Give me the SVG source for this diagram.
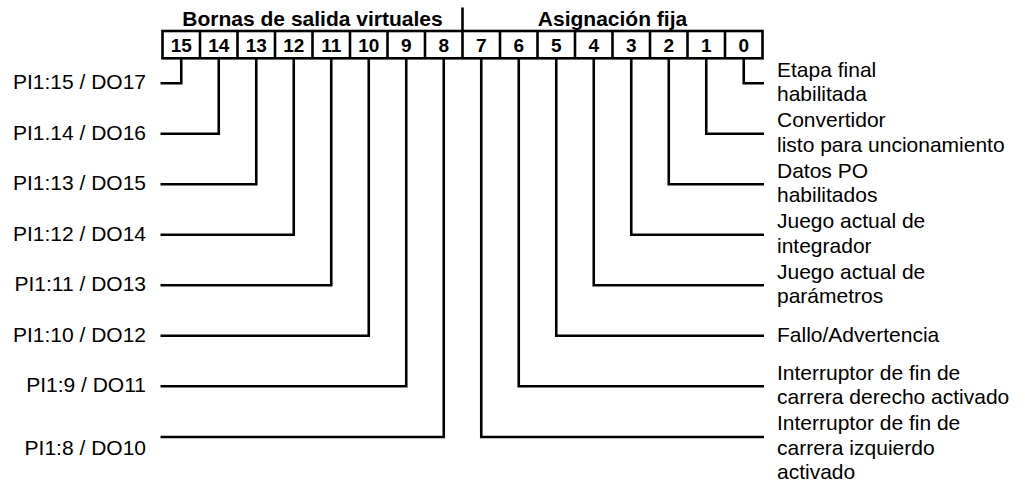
<svg xmlns="http://www.w3.org/2000/svg" width="1025" height="485" viewBox="0 0 1025 485">
<style>
.t{font-family:"Liberation Sans",Arial,sans-serif;font-size:21px;fill:#000}
.h{font-family:"Liberation Sans",Arial,sans-serif;font-size:21px;font-weight:bold;fill:#000;text-anchor:middle}
.n{font-family:"Liberation Sans",Arial,sans-serif;font-size:19px;font-weight:bold;fill:#000;text-anchor:middle}
.l{text-anchor:end}
.c{fill:none;stroke:#000;stroke-width:2.6;stroke-linejoin:miter;stroke-linecap:butt}
.b{fill:#fff;stroke:#000;stroke-width:2.6}
</style>
<rect width="1025" height="485" fill="#fff"/>
<g id="header">
<text class="h" x="312.5" y="26">Bornas de salida virtuales</text>
<text class="h" x="612.5" y="26">Asignación fija</text>
<line class="c" x1="462.5" y1="7.5" x2="462.5" y2="31"/>
</g>
<g id="register">
<rect class="b" x="162.5" y="31" width="600" height="27.3"/>
<path class="c" d="M200,31V58.3M237.5,31V58.3M275,31V58.3M312.5,31V58.3M350,31V58.3M387.5,31V58.3M425,31V58.3M462.5,31V58.3M500,31V58.3M537.5,31V58.3M575,31V58.3M612.5,31V58.3M650,31V58.3M687.5,31V58.3M725,31V58.3"/>
<text class="n" x="181.25" y="51.9">15</text>
<text class="n" x="218.75" y="51.9">14</text>
<text class="n" x="256.25" y="51.9">13</text>
<text class="n" x="293.75" y="51.9">12</text>
<text class="n" x="331.25" y="51.9">11</text>
<text class="n" x="368.75" y="51.9">10</text>
<text class="n" x="406.25" y="51.9">9</text>
<text class="n" x="443.75" y="51.9">8</text>
<text class="n" x="481.25" y="51.9">7</text>
<text class="n" x="518.75" y="51.9">6</text>
<text class="n" x="556.25" y="51.9">5</text>
<text class="n" x="593.75" y="51.9">4</text>
<text class="n" x="631.25" y="51.9">3</text>
<text class="n" x="668.75" y="51.9">2</text>
<text class="n" x="706.25" y="51.9">1</text>
<text class="n" x="743.75" y="51.9">0</text>
</g>
<g id="connectors">
<path class="c" d="M160.5,83.3H181.25V58.3"/>
<path class="c" d="M160.5,133.8H218.75V58.3"/>
<path class="c" d="M160.5,184.3H256.25V58.3"/>
<path class="c" d="M160.5,234.8H293.75V58.3"/>
<path class="c" d="M160.5,285.3H331.25V58.3"/>
<path class="c" d="M160.5,335.8H368.75V58.3"/>
<path class="c" d="M160.5,386.3H406.25V58.3"/>
<path class="c" d="M160.5,437H443.75V58.3"/>
<path class="c" d="M764,83.3H743.75V58.3"/>
<path class="c" d="M764,133.8H706.25V58.3"/>
<path class="c" d="M764,184.3H668.75V58.3"/>
<path class="c" d="M764,234.8H631.25V58.3"/>
<path class="c" d="M764,285.3H593.75V58.3"/>
<path class="c" d="M764,335.8H556.25V58.3"/>
<path class="c" d="M764,386.3H518.75V58.3"/>
<path class="c" d="M764,437H481.25V58.3"/>
</g>
<g id="left-labels">
<text class="t l" x="146" y="89.3">PI1:15 / DO17</text>
<text class="t l" x="146" y="139.8">PI1.14 / DO16</text>
<text class="t l" x="146" y="190.3">PI1:13 / DO15</text>
<text class="t l" x="146" y="240.8">PI1:12 / DO14</text>
<text class="t l" x="146" y="291.3">PI1:11 / DO13</text>
<text class="t l" x="146" y="341.8">PI1:10 / DO12</text>
<text class="t l" x="146" y="392.3">PI1:9 / DO11</text>
<text class="t l" x="146" y="455">PI1:8 / DO10</text>
</g>
<g id="bit0"><text class="t" x="777" y="76.7">Etapa final</text><text class="t" x="777" y="101">habilitada</text></g>
<g id="bit1"><text class="t" x="777" y="127.2">Convertidor</text><text class="t" x="777" y="151.5">listo para uncionamiento</text></g>
<g id="bit2"><text class="t" x="777" y="177.7">Datos PO</text><text class="t" x="777" y="202">habilitados</text></g>
<g id="bit3"><text class="t" x="777" y="228.2">Juego actual de</text><text class="t" x="777" y="252.5">integrador</text></g>
<g id="bit4"><text class="t" x="777" y="278.7">Juego actual de</text><text class="t" x="777" y="303">parámetros</text></g>
<g id="bit5"><text class="t" x="777" y="342">Fallo/Advertencia</text></g>
<g id="bit6"><text class="t" x="777" y="379.7">Interruptor de fin de</text><text class="t" x="777" y="404">carrera derecho activado</text></g>
<g id="bit7"><text class="t" x="777" y="430.4">Interruptor de fin de</text><text class="t" x="777" y="454.7">carrera izquierdo</text><text class="t" x="777" y="479">activado</text></g>
</svg>
